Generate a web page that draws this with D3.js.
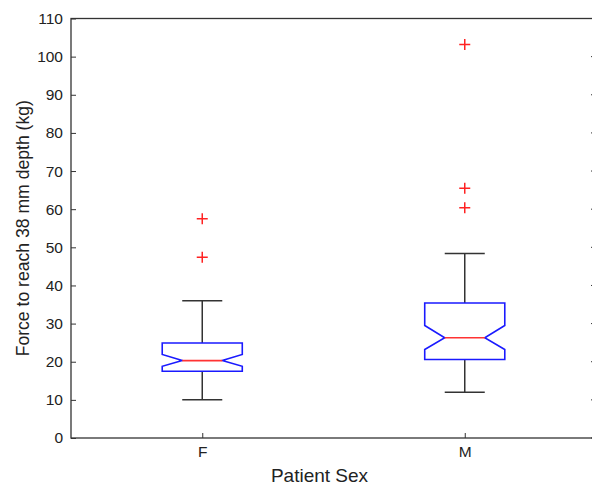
<!DOCTYPE html>
<html><head><meta charset="utf-8">
<script src="https://cdn.jsdelivr.net/npm/d3@7"></script>
<style>body{margin:0;background:#fff}svg{display:block}text{font-family:"Liberation Sans",Arial,sans-serif}</style>
</head><body><svg id="c" width="592" height="488"></svg>
<script>
const categories = ["F", "M"];
const whiskerLo = [10.0, 12.0];
const q1 = [17.5, 20.6];
const notchLo = [18.8, 23.2];
const median = [20.3, 26.3];
const notchHi = [21.9, 29.5];
const q3 = [24.9, 35.4];
const whiskerHi = [36.0, 48.4];
const outliers = [[57.5, 47.4], [103.2, 65.5, 60.4]];
const yTicks = [0,10,20,30,40,50,60,70,80,90,100,110];

const svg = d3.select("#c");
const L = 71, R = 596, T = 18.5, B = 438;
const x = d3.scaleLinear().domain([0.5, 2.5]).range([L, R]);
const y = d3.scaleLinear().domain([0, 110]).range([B, T]);
const axisCol = "#333";
const boxW = 0.305;

// frame
svg.append("rect").attr("x", L).attr("y", T).attr("width", R - L).attr("height", B - T)
  .attr("fill", "none").attr("stroke", axisCol).attr("stroke-width", 1.3);

// y axis
const ya = svg.append("g").attr("transform", `translate(${L},0)`)
  .call(d3.axisLeft(y).tickValues(yTicks).tickSizeInner(-5).tickSizeOuter(0).tickPadding(8));
ya.select(".domain").remove();
ya.selectAll("line").attr("stroke", axisCol);
ya.selectAll("text").attr("font-size", 15.5).attr("fill", "#222")
  .attr("font-family", "'Liberation Sans',Arial,sans-serif");
// right ticks
svg.append("g").selectAll("line").data(yTicks).join("line")
  .attr("x1", R).attr("x2", R - 5).attr("y1", d => y(d)).attr("y2", d => y(d)).attr("stroke", axisCol);

// x axis
const xa = svg.append("g").attr("transform", `translate(0,${B})`)
  .call(d3.axisBottom(x).tickValues([1, 2]).tickFormat((d) => categories[d - 1]).tickSizeInner(-5).tickSizeOuter(0).tickPadding(8));
xa.select(".domain").remove();
xa.selectAll("line").attr("stroke", axisCol);
xa.selectAll("text").attr("font-size", 15.5).attr("fill", "#222")
  .attr("font-family", "'Liberation Sans',Arial,sans-serif");

// labels
svg.append("text").attr("x", 319.5).attr("y", 482).attr("text-anchor", "middle")
  .attr("font-size", 19).attr("fill", "#222").text("Patient Sex");
svg.append("text").attr("transform", `translate(29,${(T + B) / 2}) rotate(-90)`).attr("text-anchor", "middle")
  .attr("font-size", 17.6).attr("fill", "#222").text("Force to reach 38 mm depth (kg)");

// boxes
categories.forEach((c, i) => {
  const cx = i + 1;
  const xl = x(cx - boxW / 2), xr = x(cx + boxW / 2);
  const nl = x(cx - boxW / 4), nr = x(cx + boxW / 4);
  const g = svg.append("g");
  // whiskers
  g.append("line").attr("x1", x(cx)).attr("x2", x(cx)).attr("y1", y(q3[i])).attr("y2", y(whiskerHi[i])).attr("stroke", axisCol).attr("stroke-width", 1.5);
  g.append("line").attr("x1", x(cx)).attr("x2", x(cx)).attr("y1", y(q1[i])).attr("y2", y(whiskerLo[i])).attr("stroke", axisCol).attr("stroke-width", 1.5);
  [whiskerHi[i], whiskerLo[i]].forEach(v => {
    g.append("line").attr("x1", nl).attr("x2", nr).attr("y1", y(v)).attr("y2", y(v)).attr("stroke", axisCol).attr("stroke-width", 1.5);
  });
  // notched box
  const pts = [
    [xl, y(q3[i])], [xr, y(q3[i])], [xr, y(notchHi[i])], [nr, y(median[i])], [xr, y(notchLo[i])],
    [xr, y(q1[i])], [xl, y(q1[i])], [xl, y(notchLo[i])], [nl, y(median[i])], [xl, y(notchHi[i])]
  ];
  g.append("path").attr("d", d3.line()(pts) + "Z").attr("fill", "none").attr("stroke", "#1a1aff").attr("stroke-width", 1.6);
  g.append("line").attr("x1", nl).attr("x2", nr).attr("y1", y(median[i])).attr("y2", y(median[i])).attr("stroke", "#ff3333").attr("stroke-width", 1.6);
  // outliers
  outliers[i].forEach(v => {
    g.append("path").attr("d", `M${x(cx) - 5.5},${y(v)}H${x(cx) + 5.5}M${x(cx)},${y(v) - 5.5}V${y(v) + 5.5}`)
      .attr("stroke", "#ff2222").attr("stroke-width", 1.5).attr("fill", "none");
  });
});
</script></body></html>
